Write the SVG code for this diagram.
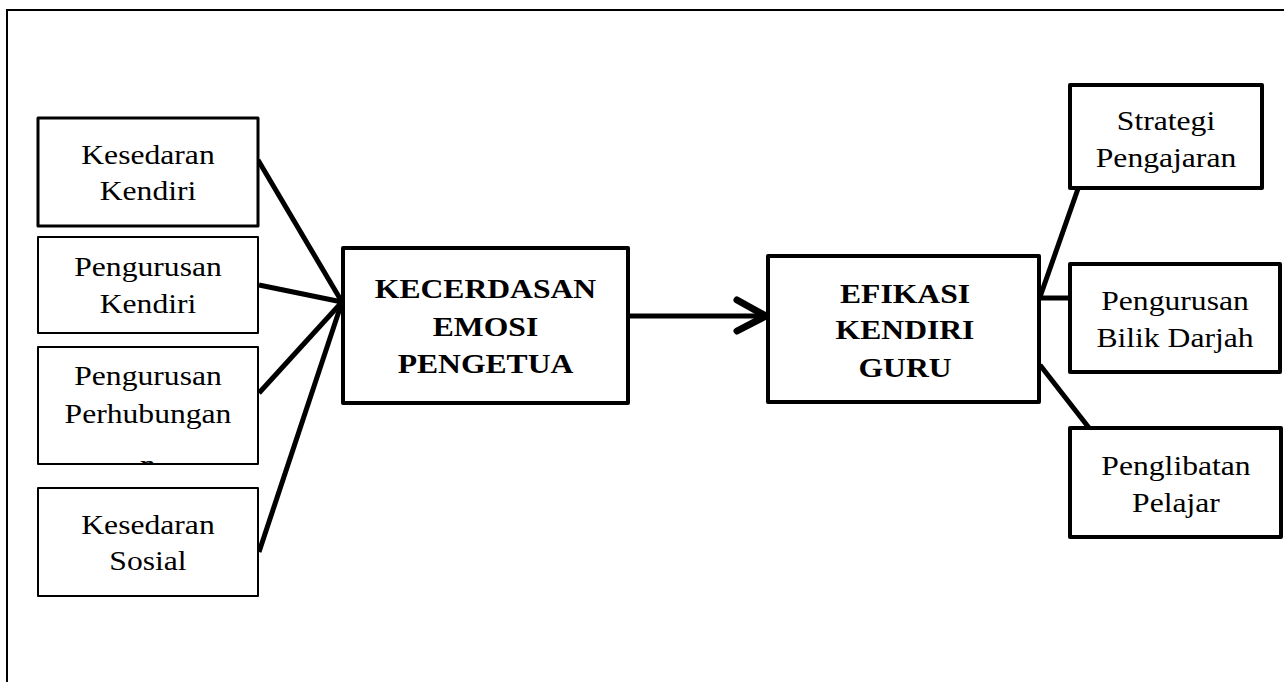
<svg xmlns="http://www.w3.org/2000/svg" width="1284" height="682" viewBox="0 0 1284 682">
<defs>
<style>
.box{fill:#fff;stroke:#000;stroke-linejoin:round}
.t{font-family:"Liberation Serif","Times New Roman",serif;font-size:28px;fill:#000;text-anchor:middle}
.b{font-weight:bold}
.c{stroke:#000;stroke-width:5;fill:none;stroke-linecap:butt}
</style>
<clipPath id="clipP"><rect x="39" y="348" width="218" height="115"/></clipPath>
</defs>
<rect x="0" y="0" width="1284" height="682" fill="#fff"/>
<rect x="7" y="10" width="1300" height="700" fill="none" stroke="#000" stroke-width="2"/>

<g id="connectors">
<line class="c" x1="258" y1="160" x2="342" y2="302"/>
<line class="c" x1="259" y1="285" x2="342" y2="302"/>
<line class="c" x1="259" y1="393" x2="342" y2="302"/>
<line class="c" x1="259" y1="552" x2="342" y2="302"/>
<line class="c" x1="628" y1="316" x2="766" y2="316" stroke-width="7"/>
<polyline points="737,300 766,316 737,331" fill="none" stroke="#000" stroke-width="7" stroke-linecap="round" stroke-linejoin="round"/>
<line class="c" x1="1040" y1="297" x2="1080" y2="183"/>
<line class="c" x1="1040" y1="298" x2="1070" y2="298"/>
<line class="c" x1="1040" y1="365" x2="1093" y2="433"/>
</g>

<g id="kesedaran-kendiri">
<rect class="box" x="38" y="118" width="220" height="108" stroke-width="3"/>
<g transform="translate(148 0) scale(1.13 1)">
<text class="t" x="0" y="164">Kesedaran</text>
<text class="t" x="0" y="200">Kendiri</text>
</g>
</g>

<g id="pengurusan-kendiri">
<rect class="box" x="38" y="237" width="220" height="96" stroke-width="2"/>
<g transform="translate(148 0) scale(1.13 1)">
<text class="t" x="0" y="276">Pengurusan</text>
<text class="t" x="0" y="313">Kendiri</text>
</g>
</g>

<g id="pengurusan-perhubungan">
<rect class="box" x="38" y="347" width="220" height="117" stroke-width="2"/>
<g clip-path="url(#clipP)">
<g transform="translate(148 0) scale(1.13 1)">
<text class="t" x="0" y="385">Pengurusan</text>
<text class="t" x="0" y="423">Perhubungan</text>
<text class="t" x="0" y="474">n</text>
</g>
</g>
</g>

<g id="kesedaran-sosial">
<rect class="box" x="38" y="488" width="220" height="108" stroke-width="2"/>
<g transform="translate(148 0) scale(1.13 1)">
<text class="t" x="0" y="534">Kesedaran</text>
<text class="t" x="0" y="570">Sosial</text>
</g>
</g>

<g id="kecerdasan-emosi-pengetua">
<rect class="box" x="343" y="248" width="285" height="155" stroke-width="4"/>
<g transform="translate(485.5 0) scale(1.13 1)">
<text class="t b" x="0" y="298">KECERDASAN</text>
<text class="t b" x="0" y="336">EMOSI</text>
<text class="t b" x="0" y="373">PENGETUA</text>
</g>
</g>

<g id="efikasi-kendiri-guru">
<rect class="box" x="768" y="256" width="271" height="146" stroke-width="4"/>
<g transform="translate(905 0) scale(1.13 1)">
<text class="t b" x="0" y="303">EFIKASI</text>
<text class="t b" x="0" y="339">KENDIRI</text>
<text class="t b" x="0" y="377">GURU</text>
</g>
</g>

<g id="strategi-pengajaran">
<rect class="box" x="1070" y="85" width="192" height="103" stroke-width="4"/>
<g transform="translate(1166 0) scale(1.13 1)">
<text class="t" x="0" y="130">Strategi</text>
<text class="t" x="0" y="167">Pengajaran</text>
</g>
</g>

<g id="pengurusan-bilik-darjah">
<rect class="box" x="1070" y="264" width="210" height="108" stroke-width="4"/>
<g transform="translate(1175 0) scale(1.13 1)">
<text class="t" x="0" y="310">Pengurusan</text>
<text class="t" x="0" y="347">Bilik Darjah</text>
</g>
</g>

<g id="penglibatan-pelajar">
<rect class="box" x="1070" y="428" width="211" height="109" stroke-width="4"/>
<g transform="translate(1176 0) scale(1.13 1)">
<text class="t" x="0" y="475">Penglibatan</text>
<text class="t" x="0" y="512">Pelajar</text>
</g>
</g>
</svg>
